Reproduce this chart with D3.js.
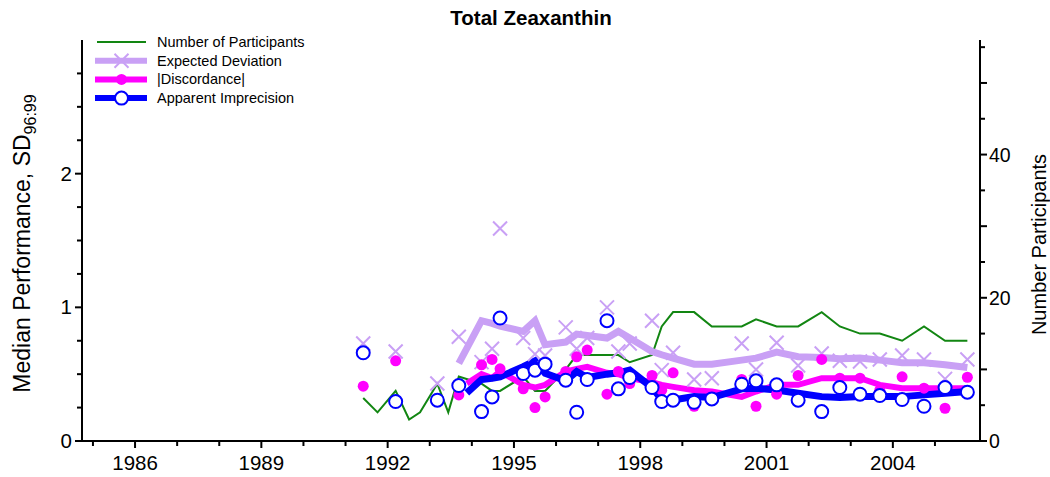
<!DOCTYPE html>
<html>
<head>
<meta charset="utf-8">
<script src="https://cdn.jsdelivr.net/npm/d3@7"></script>
<style>
  body { margin: 0; background: #fff; }
  svg { font-family: "Liberation Sans", Arial, sans-serif; }
</style>
</head>
<body>
<div id="chart"></div>
<script>
// Number of participants per round [year, N]
const participants = [
  [1991.42, 6], [1991.76, 4], [1992.19, 7], [1992.51, 3], [1992.77, 4], [1993.18, 8],
  [1993.44, 4], [1993.69, 9], [1994.23, 8], [1994.48, 7], [1994.67, 7], [1995.22, 9],
  [1995.50, 7], [1995.74, 7], [1996.23, 10], [1996.49, 12], [1996.74, 12], [1997.21, 12],
  [1997.48, 12], [1997.75, 11], [1998.28, 12], [1998.51, 16], [1998.78, 18], [1999.28, 18],
  [1999.70, 16], [2000.41, 16], [2000.75, 17], [2001.24, 16], [2001.75, 16], [2002.31, 18],
  [2002.74, 16], [2003.22, 15], [2003.69, 15], [2004.22, 14], [2004.74, 16], [2005.24, 14],
  [2005.77, 14]
];

// Expected deviation per round
const expectedPts = [
  [1991.42, 0.73], [1992.19, 0.67], [1993.18, 0.43], [1993.69, 0.78], [1994.23, 0.59],
  [1994.48, 0.69], [1994.67, 1.59], [1995.22, 0.77], [1995.50, 0.65], [1995.74, 0.64],
  [1996.23, 0.85], [1996.49, 0.69], [1996.74, 0.77], [1997.21, 1.00], [1997.48, 0.67],
  [1997.75, 0.73], [1998.28, 0.90], [1998.51, 0.53], [1998.78, 0.66], [1999.28, 0.46],
  [1999.70, 0.47], [2000.41, 0.73], [2000.75, 0.535], [2001.24, 0.735], [2001.75, 0.565],
  [2002.31, 0.655], [2002.74, 0.60], [2003.22, 0.595], [2003.69, 0.61], [2004.22, 0.64],
  [2004.74, 0.61], [2005.24, 0.465], [2005.77, 0.61]
];

// |Discordance| per round
const discordPts = [
  [1991.42, 0.41], [1992.19, 0.60], [1993.18, 0.31], [1993.69, 0.345], [1994.23, 0.57],
  [1994.48, 0.61], [1994.67, 0.54], [1995.22, 0.39], [1995.50, 0.25], [1995.74, 0.33],
  [1996.23, 0.52], [1996.49, 0.63], [1996.74, 0.68], [1997.21, 0.35], [1997.48, 0.52],
  [1997.75, 0.43], [1998.28, 0.49], [1998.51, 0.38], [1998.78, 0.51], [1999.28, 0.26],
  [1999.70, 0.31], [2000.41, 0.46], [2000.75, 0.26], [2001.24, 0.35], [2001.75, 0.49],
  [2002.31, 0.61], [2002.74, 0.47], [2003.22, 0.47], [2003.69, 0.38], [2004.22, 0.48],
  [2004.74, 0.395], [2005.24, 0.245], [2005.77, 0.477]
];

// Apparent imprecision per round
const imprecPts = [
  [1991.42, 0.66], [1992.19, 0.295], [1993.18, 0.305], [1993.69, 0.415], [1994.23, 0.22],
  [1994.48, 0.33], [1994.67, 0.92], [1995.22, 0.505], [1995.50, 0.53], [1995.74, 0.575],
  [1996.23, 0.455], [1996.49, 0.215], [1996.74, 0.46], [1997.21, 0.90], [1997.48, 0.39],
  [1997.75, 0.475], [1998.28, 0.40], [1998.51, 0.295], [1998.78, 0.305], [1999.28, 0.29],
  [1999.70, 0.315], [2000.41, 0.425], [2000.75, 0.45], [2001.24, 0.42], [2001.75, 0.305],
  [2002.31, 0.22], [2002.74, 0.40], [2003.22, 0.35], [2003.69, 0.34], [2004.22, 0.31],
  [2004.74, 0.26], [2005.24, 0.40], [2005.77, 0.365]
];

// running summaries (thick lines)
const expectedLine = [
  [1993.69, 0.58], [1994.23, 0.90], [1994.48, 0.88], [1994.67, 0.86], [1995.22, 0.82],
  [1995.50, 0.90], [1995.74, 0.72], [1996.23, 0.74], [1996.49, 0.80], [1996.74, 0.79],
  [1997.21, 0.77], [1997.48, 0.82], [1997.75, 0.77], [1998.28, 0.67], [1998.51, 0.645],
  [1998.78, 0.62], [1999.28, 0.575], [1999.70, 0.575], [2000.41, 0.605], [2000.75, 0.62],
  [2001.24, 0.665], [2001.75, 0.63], [2002.31, 0.625], [2002.74, 0.615], [2003.22, 0.62],
  [2003.69, 0.605], [2004.22, 0.585], [2004.74, 0.585], [2005.24, 0.57], [2005.77, 0.55]
];
const discordLine = [
  [1993.88, 0.43], [1994.23, 0.50], [1994.48, 0.47], [1994.67, 0.52], [1995.22, 0.42],
  [1995.50, 0.40], [1995.74, 0.42], [1996.23, 0.52], [1996.49, 0.54], [1996.74, 0.555],
  [1997.21, 0.51], [1997.48, 0.50], [1997.75, 0.47], [1998.28, 0.44], [1998.51, 0.42],
  [1998.78, 0.405], [1999.28, 0.38], [1999.70, 0.37], [2000.41, 0.33], [2000.75, 0.37],
  [2001.24, 0.42], [2001.75, 0.42], [2002.31, 0.47], [2002.74, 0.47], [2003.22, 0.47],
  [2003.69, 0.42], [2004.22, 0.395], [2004.74, 0.395], [2005.24, 0.395], [2005.77, 0.395]
];
const imprecLine = [
  [1993.88, 0.36], [1994.23, 0.46], [1994.48, 0.47], [1994.67, 0.48], [1995.22, 0.556],
  [1995.50, 0.60], [1995.74, 0.507], [1996.23, 0.45], [1996.49, 0.52], [1996.74, 0.475],
  [1997.21, 0.50], [1997.48, 0.51], [1997.75, 0.53], [1998.28, 0.40], [1998.51, 0.31],
  [1998.78, 0.307], [1999.28, 0.332], [1999.70, 0.325], [2000.41, 0.39], [2000.75, 0.395],
  [2001.24, 0.382], [2001.75, 0.357], [2002.31, 0.332], [2002.74, 0.325], [2003.22, 0.332],
  [2003.69, 0.332], [2004.22, 0.332], [2004.74, 0.345], [2005.24, 0.357], [2005.77, 0.37]
];

const yearLabels = [1986, 1989, 1992, 1995, 1998, 2001, 2004];
const leftLabels = [0, 1, 2];
const rightLabels = [0, 20, 40];
const legendItems = ['Number of Participants', 'Expected Deviation', '|Discordance|', 'Apparent Imprecision'];

const width = 1050;
const height = 477;
const plotLeft = 82, plotRight = 980, plotTop = 40, plotBottom = 441;

const colN = '#128612';
const colExp = '#c9a0f5';
const colDis = '#ff00ff';
const colImp = '#0000ff';

const x = d3.scaleLinear().domain([1984.74, 2006.07]).range([plotLeft, plotRight]);
const y = d3.scaleLinear().domain([0, 3]).range([plotBottom, plotTop]);
const yN = d3.scaleLinear().domain([0, 56]).range([plotBottom, plotTop]);

const svg = d3.select('#chart').append('svg')
  .attr('width', width)
  .attr('height', height);

// title
svg.append('text')
  .attr('x', 531).attr('y', 25)
  .attr('text-anchor', 'middle')
  .style('font-size', '20.5px').style('font-weight', 'bold')
  .text('Total Zeaxanthin');

// axes
const xAxis = svg.append('g').attr('transform', `translate(0,${plotBottom})`);
xAxis.append('line').attr('x1', plotLeft).attr('x2', plotRight).attr('stroke', '#000').attr('stroke-width', 2);
xAxis.selectAll('.xt')
  .data(d3.range(1985, 2006))
  .enter().append('line')
  .attr('x1', d => x(d)).attr('x2', d => x(d))
  .attr('y1', 0).attr('y2', d => yearLabels.includes(d) ? 7 : 5)
  .attr('stroke', '#000').attr('stroke-width', 2);
xAxis.selectAll('.xl')
  .data(yearLabels)
  .enter().append('text')
  .attr('x', d => x(d)).attr('y', 29)
  .attr('text-anchor', 'middle')
  .style('font-size', '20.5px')
  .text(d => d);

const yAxis = svg.append('g');
yAxis.append('line').attr('x1', plotLeft).attr('x2', plotLeft).attr('y1', plotTop).attr('y2', plotBottom)
  .attr('stroke', '#000').attr('stroke-width', 2);
yAxis.selectAll('.yt')
  .data(d3.range(0, 12).map(i => i * 0.25))
  .enter().append('line')
  .attr('x1', plotLeft).attr('x2', d => plotLeft - (Number.isInteger(d) ? 7 : 5))
  .attr('y1', d => y(d)).attr('y2', d => y(d))
  .attr('stroke', '#000').attr('stroke-width', 2);
yAxis.selectAll('.yl')
  .data(leftLabels)
  .enter().append('text')
  .attr('x', plotLeft - 10).attr('y', d => y(d) + 7)
  .attr('text-anchor', 'end')
  .style('font-size', '20.5px')
  .text(d => d);

const nAxis = svg.append('g');
nAxis.append('line').attr('x1', plotRight).attr('x2', plotRight).attr('y1', plotTop).attr('y2', plotBottom)
  .attr('stroke', '#000').attr('stroke-width', 2);
nAxis.selectAll('.nt')
  .data(d3.range(0, 56, 5))
  .enter().append('line')
  .attr('x1', plotRight).attr('x2', d => plotRight + (d % 10 === 0 ? 7 : 5))
  .attr('y1', d => yN(d)).attr('y2', d => yN(d))
  .attr('stroke', '#000').attr('stroke-width', 2);
nAxis.selectAll('.nl')
  .data(rightLabels)
  .enter().append('text')
  .attr('x', plotRight + 9).attr('y', d => yN(d) + 7)
  .style('font-size', '19.5px')
  .text(d => d);

// axis titles
const yTitle = svg.append('text')
  .attr('transform', `translate(30,${(plotTop + plotBottom) / 2 + 3}) rotate(-90)`)
  .attr('text-anchor', 'middle')
  .style('font-size', '23px');
yTitle.append('tspan').text('Median Performance, SD');
yTitle.append('tspan').attr('dy', 6).style('font-size', '16px').text('96:99');

svg.append('text')
  .attr('transform', `translate(1046,${(plotTop + plotBottom) / 2 + 4}) rotate(-90)`)
  .attr('text-anchor', 'middle')
  .style('font-size', '20px')
  .text('Number Participants');

// lines
const line = d3.line().x(d => x(d[0])).y(d => y(d[1]));
const lineN = d3.line().x(d => x(d[0])).y(d => yN(d[1]));

const plot = svg.append('g');

plot.append('path').datum(participants)
  .attr('d', lineN).attr('fill', 'none')
  .attr('stroke', colN).attr('stroke-width', 2);

plot.append('path').datum(expectedLine)
  .attr('d', line).attr('fill', 'none')
  .attr('stroke', colExp).attr('stroke-width', 7);

plot.append('path').datum(discordLine)
  .attr('d', line).attr('fill', 'none')
  .attr('stroke', colDis).attr('stroke-width', 6);

plot.append('path').datum(imprecLine)
  .attr('d', line).attr('fill', 'none')
  .attr('stroke', colImp).attr('stroke-width', 7);

// markers
function drawX(g, cx, cy, s) {
  g.append('path')
    .attr('d', `M${cx - s},${cy - s}L${cx + s},${cy + s}M${cx - s},${cy + s}L${cx + s},${cy - s}`)
    .attr('stroke', colExp).attr('stroke-width', 2).attr('fill', 'none');
}

expectedPts.forEach(d => drawX(plot, x(d[0]), y(d[1]), 7));

plot.selectAll('.dis')
  .data(discordPts)
  .enter().append('circle')
  .attr('cx', d => x(d[0])).attr('cy', d => y(d[1]))
  .attr('r', 5.5)
  .attr('fill', colDis);

plot.selectAll('.imp')
  .data(imprecPts)
  .enter().append('circle')
  .attr('cx', d => x(d[0])).attr('cy', d => y(d[1]))
  .attr('r', 6.5)
  .attr('fill', '#fff')
  .attr('stroke', colImp).attr('stroke-width', 2);

// legend
const legend = svg.append('g');
const rowY = i => 42 + i * 18.7;
legend.selectAll('text')
  .data(legendItems)
  .enter().append('text')
  .attr('x', 157).attr('y', (d, i) => rowY(i) + 5)
  .style('font-size', '14.5px')
  .text(d => d);

legend.append('line').attr('x1', 97).attr('x2', 146).attr('y1', rowY(0)).attr('y2', rowY(0))
  .attr('stroke', colN).attr('stroke-width', 2);
legend.append('line').attr('x1', 95).attr('x2', 147).attr('y1', rowY(1)).attr('y2', rowY(1))
  .attr('stroke', colExp).attr('stroke-width', 6);
drawX(legend, 121.5, rowY(1), 7);
legend.append('line').attr('x1', 95).attr('x2', 147).attr('y1', rowY(2)).attr('y2', rowY(2))
  .attr('stroke', colDis).attr('stroke-width', 6);
legend.append('circle').attr('cx', 121.5).attr('cy', rowY(2)).attr('r', 5.5).attr('fill', colDis);
legend.append('line').attr('x1', 95).attr('x2', 147).attr('y1', rowY(3)).attr('y2', rowY(3))
  .attr('stroke', colImp).attr('stroke-width', 6);
legend.append('circle').attr('cx', 121.5).attr('cy', rowY(3)).attr('r', 6.5)
  .attr('fill', '#fff').attr('stroke', colImp).attr('stroke-width', 2);
</script>
</body>
</html>
